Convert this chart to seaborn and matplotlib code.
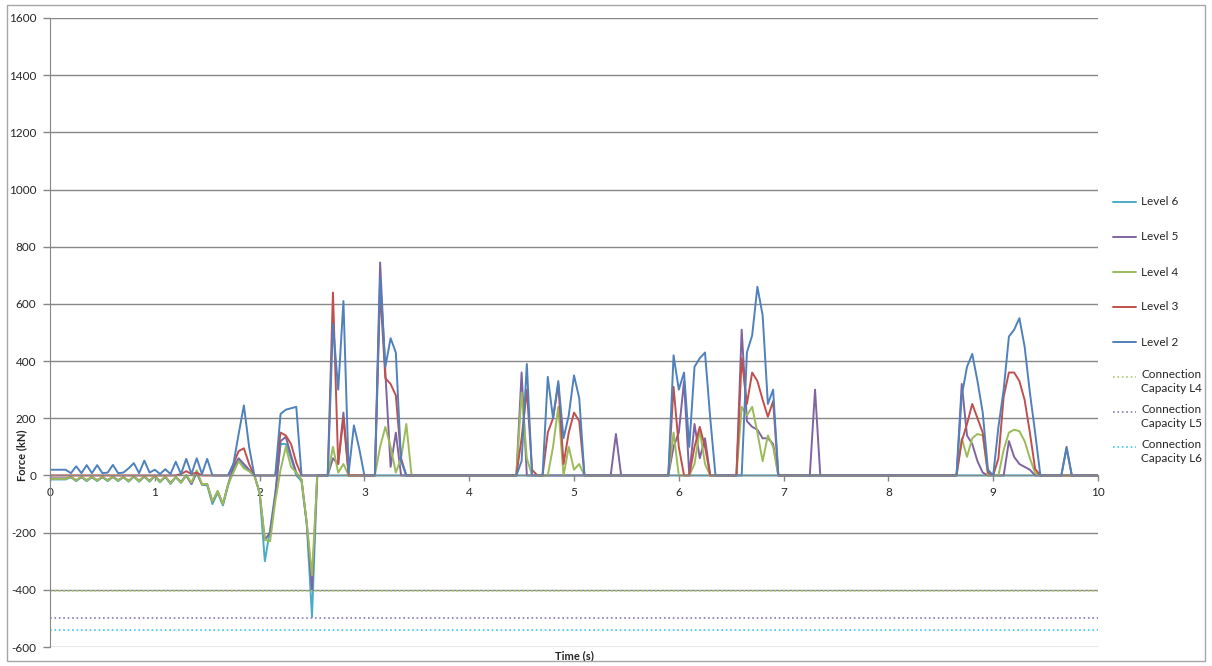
import numpy as np
import pandas as pd
import matplotlib
matplotlib.use('Agg')
import matplotlib.pyplot as plt
import seaborn as sns
from matplotlib.lines import Line2D
from matplotlib.patches import Rectangle

# time grid (s), one sample every 0.05 s
time = np.round(np.arange(0, 10.0001, 0.05), 2)

# forces in kN, one row per second (20 samples)
level2 = [
    20, 20, 20, 20, 8, 32, 8, 36, 8, 36, 8, 10, 37, 8, 10, 25, 43, 8, 52, 10,
    20, 5, 22, 5, 48, 5, 58, 5, 60, 5, 58, 0, 0, 0, 0, 40, 145, 245, 100, 0,
    0, 0, 0, 0, 215, 230, 235, 240, 0, 0, 0, 0, 0, 0, 530, 300, 610, 10, 175, 95,
    0, 0, 0, 690, 380, 480, 430, 50, 0, 0, 0, 0, 0, 0, 0, 0, 0, 0, 0, 0,
    0, 0, 0, 0, 0, 0, 0, 0, 0, 0, 50, 390, 0, 0, 0, 345, 200, 330, 130, 210,
    350, 270, 0, 0, 0, 0, 0, 0, 0, 0, 0, 0, 0, 0, 0, 0, 0, 0, 0, 420,
    300, 360, 100, 380, 410, 430, 200, 0, 0, 0, 0, 0, 0, 430, 490, 660, 560, 250, 300, 0,
    0, 0, 0, 0, 0, 0, 0, 0, 0, 0, 0, 0, 0, 0, 0, 0, 0, 0, 0, 0,
    0, 0, 0, 0, 0, 0, 0, 0, 0, 0, 0, 0, 0, 0, 280, 380, 425, 330, 220, 20,
    0, 170, 300, 486, 510, 550, 450, 290, 150, 0, 0, 0, 0, 0, 95, 0, 0, 0, 0, 0,
    0]

level3 = [
    0, 0, 0, 0, 0, 0, 0, 0, 0, 0, 0, 0, 0, 0, 0, 0, 0, 0, 0, 0,
    0, 0, 0, 0, 0, 5, 15, 5, 10, 0, 0, 0, 0, 0, 0, 40, 85, 95, 40, 0,
    0, 0, 0, 0, 150, 140, 110, 45, 0, 0, 0, 0, 0, 0, 640, 40, 200, 0, 0, 0,
    0, 0, 0, 650, 340, 320, 280, 60, 0, 0, 0, 0, 0, 0, 0, 0, 0, 0, 0, 0,
    0, 0, 0, 0, 0, 0, 0, 0, 0, 0, 130, 300, 20, 0, 0, 150, 200, 320, 40, 150,
    220, 190, 0, 0, 0, 0, 0, 0, 0, 0, 0, 0, 0, 0, 0, 0, 0, 0, 0, 310,
    100, 0, 0, 100, 170, 100, 0, 0, 0, 0, 0, 0, 410, 250, 360, 330, 265, 205, 260, 0,
    0, 0, 0, 0, 0, 0, 0, 0, 0, 0, 0, 0, 0, 0, 0, 0, 0, 0, 0, 0,
    0, 0, 0, 0, 0, 0, 0, 0, 0, 0, 0, 0, 0, 0, 120, 180, 250, 200, 150, 10,
    0, 60, 276, 360, 360, 330, 264, 150, 23, 0, 0, 0, 0, 0, 0, 0, 0, 0, 0, 0,
    0]

level4 = [
    -12, -12, -12, -12, -4, -18, -4, -18, -4, -18, -4, -18, -3, -18, -5, -20, -2, -20, -2, -20,
    0, -22, -3, -28, -5, -25, 2, -25, 18, -30, -30, -90, -55, -100, -30, 10, 50, 25, 15, 0,
    -60, -225, -230, -90, 20, 100, 30, 10, -15, -165, -350, 0, 0, 0, 100, 10, 40, 0, 0, 0,
    0, 0, 0, 100, 170, 100, 10, 60, 180, 0, 0, 0, 0, 0, 0, 0, 0, 0, 0, 0,
    0, 0, 0, 0, 0, 0, 0, 0, 0, 0, 290, 60, 0, 0, 0, 0, 100, 240, 0, 100,
    20, 40, 0, 0, 0, 0, 0, 0, 0, 0, 0, 0, 0, 0, 0, 0, 0, 0, 0, 150,
    0, 0, 0, 40, 160, 40, 0, 0, 0, 0, 0, 0, 240, 210, 240, 150, 50, 140, 100, 0,
    0, 0, 0, 0, 0, 0, 0, 0, 0, 0, 0, 0, 0, 0, 0, 0, 0, 0, 0, 0,
    0, 0, 0, 0, 0, 0, 0, 0, 0, 0, 0, 0, 0, 0, 130, 65, 130, 145, 140, 0,
    0, 0, 90, 150, 160, 155, 120, 60, 10, 0, 0, 0, 0, 0, 0, 0, 0, 0, 0, 0,
    0]

level5 = [
    -10, -10, -10, -10, -6, -16, -6, -16, -6, -16, -6, -16, -5, -16, -6, -18, -4, -18, -4, -18,
    -2, -20, -5, -26, -6, -22, 0, -30, 12, -32, -30, -92, -55, -100, -30, 30, 60, 40, 20, 0,
    -60, -225, -200, -70, 120, 135, 70, 10, -15, -168, -400, 0, 0, 0, 60, 40, 220, 0, 0, 0,
    0, 0, 0, 745, 360, 30, 150, 0, 0, 0, 0, 0, 0, 0, 0, 0, 0, 0, 0, 0,
    0, 0, 0, 0, 0, 0, 0, 0, 0, 0, 360, 0, 0, 0, 0, 0, 0, 0, 0, 0,
    0, 0, 0, 0, 0, 0, 0, 0, 145, 0, 0, 0, 0, 0, 0, 0, 0, 0, 0, 100,
    150, 330, 0, 180, 60, 130, 0, 0, 0, 0, 0, 0, 510, 190, 170, 160, 130, 130, 110, 0,
    0, 0, 0, 0, 0, 0, 300, 0, 0, 0, 0, 0, 0, 0, 0, 0, 0, 0, 0, 0,
    0, 0, 0, 0, 0, 0, 0, 0, 0, 0, 0, 0, 0, 0, 320, 140, 110, 50, 10, 0,
    0, 0, 0, 120, 65, 40, 30, 20, 0, 0, 0, 0, 0, 0, 100, 0, 0, 0, 0, 0,
    0]

level6 = [
    -14, -14, -14, -14, -6, -20, -6, -20, -6, -20, -6, -20, -5, -20, -6, -22, -4, -22, -4, -22,
    -2, -24, -5, -30, -6, -26, 0, -30, 10, -32, -35, -100, -60, -105, -35, 20, 55, 30, 15, 0,
    -60, -300, -190, -60, 110, 110, 60, 0, -20, -170, -495, 0, 0, 0, 0, 0, 0, 0, 0, 0,
    0, 0, 0, 0, 0, 0, 0, 0, 0, 0, 0, 0, 0, 0, 0, 0, 0, 0, 0, 0,
    0, 0, 0, 0, 0, 0, 0, 0, 0, 0, 0, 0, 0, 0, 0, 0, 0, 0, 0, 0,
    0, 0, 0, 0, 0, 0, 0, 0, 0, 0, 0, 0, 0, 0, 0, 0, 0, 0, 0, 0,
    0, 0, 0, 0, 0, 0, 0, 0, 0, 0, 0, 0, 0, 0, 0, 0, 0, 0, 0, 0,
    0, 0, 0, 0, 0, 0, 0, 0, 0, 0, 0, 0, 0, 0, 0, 0, 0, 0, 0, 0,
    0, 0, 0, 0, 0, 0, 0, 0, 0, 0, 0, 0, 0, 0, 0, 0, 0, 0, 0, 0,
    0, 0, 0, 0, 0, 0, 0, 0, 0, 0, 0, 0, 0, 0, 0, 0, 0, 0, 0, 0,
    0]

# connection capacities (kN), constant over the record
cap_time = [0, 10]
cap_l4 = -405
cap_l5 = -500
cap_l6 = -540

level_names = ['Level 6', 'Level 5', 'Level 4', 'Level 3', 'Level 2']
level_values = [level6, level5, level4, level3, level2]
level_colors = ['#4BACC6', '#8064A2', '#9BBB59', '#C0504D', '#4F81BD']
cap_names = ['Connection\nCapacity L4', 'Connection\nCapacity L5', 'Connection\nCapacity L6']
cap_values = [cap_l4, cap_l5, cap_l6]
cap_colors = ['#AFCB6E', '#8B78B8', '#3CC6F0']

sns.set_style('white')
plt.rcParams['font.family'] = ['Lato', 'DejaVu Sans']
plt.rcParams['axes.unicode_minus'] = False

W, H = 1212, 666
fig = plt.figure(figsize=(W / 100, H / 100), dpi=100)
ax = fig.add_axes([50 / W, 19 / H, 1048 / W, 629 / H])

for name, vals, col in zip(level_names, level_values, level_colors):
    sns.lineplot(x=time, y=vals, color=col, lw=1.4, ax=ax, estimator=None, sort=False)

for name, v, col in zip(cap_names, cap_values, cap_colors):
    sns.lineplot(x=cap_time, y=[v, v], color=col, lw=1.2, linestyle=':', ax=ax)

ax.set_xlim(0, 10)
ax.set_ylim(-600, 1600)
ax.set_xticks(range(0, 11))
ax.set_yticks(range(-600, 1601, 200))
ax.grid(axis='y', color='#878787', lw=1)
ax.grid(axis='x', visible=False)
ax.set_axisbelow(True)

for s in ['top', 'right']:
    ax.spines[s].set_visible(False)
ax.spines['bottom'].set_position(('data', 0))
ax.spines['left'].set_color('#878787')
ax.spines['bottom'].set_color('#878787')
ax.tick_params(axis='y', direction='out', length=5, width=1, color='#878787',
               pad=5, labelsize=8.5, left=True)
ax.tick_params(axis='x', direction='out', length=4, width=1, color='#878787',
               pad=4, labelsize=8.5, bottom=True)

ax.set_xlabel('Time (s)', fontweight='bold', fontsize=8)
ax.xaxis.set_label_coords(0.5, -0.0143)
ax.xaxis.label.set_va('center')
ax.set_ylabel('Force (kN)', fontweight='bold', fontsize=8)
ax.yaxis.set_label_coords(-0.0267, 0.305)
ax.yaxis.label.set_va('center')

# legend on the right, one entry every 35 px
leg_items = list(zip(level_names, level_colors, ['-'] * 5)) + \
    list(zip(cap_names, cap_colors, [':'] * 3))
for i, (label, col, ls) in enumerate(leg_items):
    y = 202 + 35 * i
    fig.add_artist(Line2D([1113 / W, 1136 / W], [1 - y / H, 1 - y / H],
                          color=col, lw=1.4 if ls == '-' else 1.2, ls=ls))
    if '\n' in label:
        fig.text(1141 / W, 1 - (y - 8) / H, label, va='top', ha='left',
                 fontsize=8.5, linespacing=1.35)
    else:
        fig.text(1141 / W, 1 - y / H, label, va='center', ha='left', fontsize=8.5)

fig.add_artist(Rectangle((7 / W, 5 / H), 1198 / W, 656 / H, transform=fig.transFigure,
                         fill=False, ec='#A6A6A6', lw=1))

fig.savefig('out.png', dpi=100)
